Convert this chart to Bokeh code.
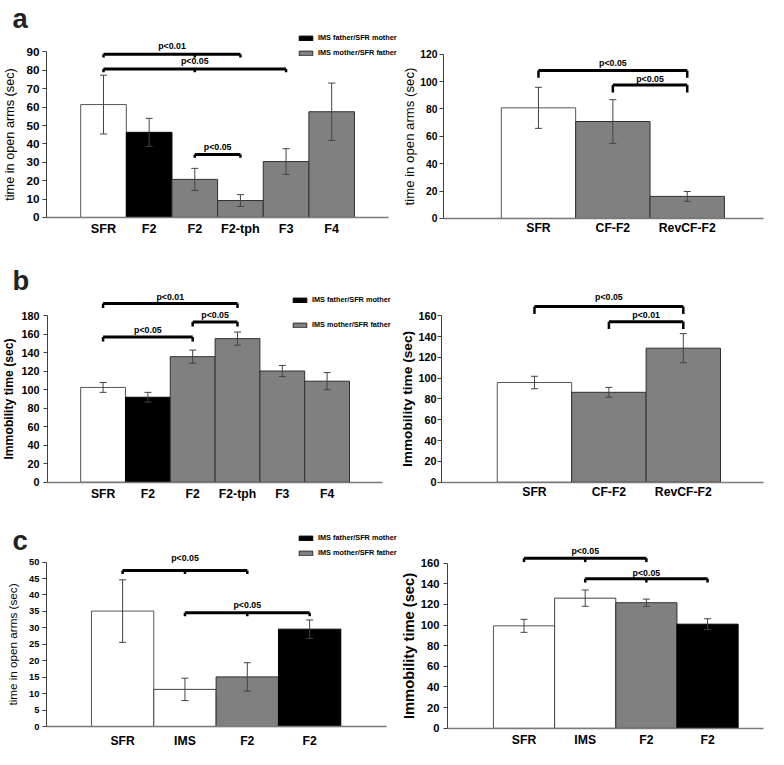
from bokeh.plotting import figure
from bokeh.models import (ColumnDataSource, FixedTicker, Whisker, TeeHead, Label,
                          Legend, LegendItem, Range1d)
from bokeh.layouts import row, column
from bokeh.embed import file_html
from bokeh.resources import INLINE
from bokeh.core.properties import value

# ---------------- data ----------------
# panel a, left: time in open arms
a1_labels = ["SFR", "F2", "F2", "F2-tph", "F3", "F4"]
a1_groups = ["SFR", "pat", "mat", "mat", "mat", "mat"]
a1_mean = [61.4, 46.3, 20.7, 9.2, 30.4, 57.5]
a1_err = [16.0, 7.6, 6.0, 3.2, 7.0, 15.6]
a1_ticks = [0, 10, 20, 30, 40, 50, 60, 70, 80, 90]
# (from bar, to bar, bracket level, text level, text, middle ticks)
a1_brackets = [(0, 3, 88.8, 93.2, "p<0.01", [2]),
               (0, 4, 80.8, 84.9, "p<0.05", [2]),
               (2, 3, 34.3, 38.4, "p<0.05", [])]

# panel a, right
a2_labels = ["SFR", "CF-F2", "RevCF-F2"]
a2_groups = ["SFR", "mat", "mat"]
a2_mean = [80.8, 70.8, 16.1]
a2_err = [15.0, 16.0, 3.6]
a2_ticks = [0, 20, 40, 60, 80, 100, 120]
a2_brackets = [(0, 2, 108.1, 113.6, "p<0.05", []),
               (1, 2, 97.4, 102.2, "p<0.05", [])]

# panel b, left: immobility time
b1_labels = ["SFR", "F2", "F2", "F2-tph", "F3", "F4"]
b1_groups = ["SFR", "pat", "mat", "mat", "mat", "mat"]
b1_mean = [102.5, 91.9, 135.8, 155.3, 120.3, 109.3]
b1_err = [5.3, 5.3, 7.1, 7.1, 6.0, 9.3]
b1_ticks = [0, 20, 40, 60, 80, 100, 120, 140, 160, 180]
b1_brackets = [(0, 3, 193.3, 200.6, "p<0.01", []),
               (2, 3, 173.3, 181.0, "p<0.05", []),
               (0, 2, 157.0, 165.0, "p<0.05", [])]

# panel b, right
b2_labels = ["SFR", "CF-F2", "RevCF-F2"]
b2_groups = ["SFR", "mat", "mat"]
b2_mean = [95.8, 86.4, 128.8]
b2_err = [6.0, 4.7, 14.0]
b2_ticks = [0, 20, 40, 60, 80, 100, 120, 140, 160]
b2_brackets = [(0, 2, 168.8, 178.2, "p<0.05", []),
               (1, 2, 154.3, 160.9, "p<0.01", [])]

# panel c, left: time in open arms
c1_labels = ["SFR", "IMS", "F2", "F2"]
c1_groups = ["SFR", "IMS", "mat", "pat"]
c1_mean = [35.1, 11.3, 15.1, 29.6]
c1_err = [9.5, 3.4, 4.3, 2.8]
c1_ticks = [0, 5, 10, 15, 20, 25, 30, 35, 40, 45, 50]
c1_brackets = [(0, 2, 47.4, 51.2, "p<0.05", [1]),
               (1, 3, 34.6, 36.9, "p<0.05", [2])]

# panel c, right: immobility time
c2_labels = ["SFR", "IMS", "F2", "F2"]
c2_groups = ["SFR", "IMS", "mat", "pat"]
c2_mean = [99.2, 126.0, 121.6, 100.8]
c2_err = [6.3, 7.9, 3.5, 5.3]
c2_ticks = [0, 20, 40, 60, 80, 100, 120, 140, 160]
c2_brackets = [(0, 2, 164.7, 171.6, "p<0.05", [1]),
               (1, 3, 144.9, 150.6, "p<0.05", [2])]

legend_text = {"pat": "IMS father/SFR mother", "mat": "IMS mother/SFR father"}

# ---------------- styles / layout ----------------
S = 0.978
FONT = "Liberation Sans"
FILL = {"SFR": "white", "IMS": "white", "pat": "black", "mat": "#808080"}
EDGE = {"SFR": "#555555", "IMS": "#404040", "pat": "black", "mat": "#303030"}


def P(v):
    return int(round(v * S))


def fs(v):
    return f"{v * S:.1f}px"


panels = [
    dict(labels=a1_labels, groups=a1_groups, mean=a1_mean, err=a1_err, ticks=a1_ticks,
         brackets=a1_brackets, ylabel="time in open arms (sec)", ylabel_bold=False,
         box=(0, 0, 408, 250), axis=(47, 397), zero=222.3, ppu=1.884, bars=(82, 362),
         tick_fs=12, lab_fs=13, tick_so=3, lab_so=6, cat_fs=13, cat_so=5, drop=3.5,
         letter=("a", 12, 18), legend=[("pat", 304, 36), ("mat", 304, 51.7)]),
    dict(labels=a2_labels, groups=a2_groups, mean=a2_mean, err=a2_err, ticks=a2_ticks,
         brackets=a2_brackets, ylabel="time in open arms (sec)", ylabel_bold=False,
         box=(408, 0, 784, 250), axis=(453, 780), zero=223.3, ppu=1.4025, bars=(512, 740),
         tick_fs=10.5, lab_fs=13.5, tick_so=2, lab_so=0, cat_fs=12.5, cat_so=3, drop=7.5,
         letter=None, legend=None),
    dict(labels=b1_labels, groups=b1_groups, mean=b1_mean, err=b1_err, ticks=b1_ticks,
         brackets=b1_brackets, ylabel="Immobility time (sec)", ylabel_bold=True,
         box=(0, 250, 402, 513), axis=(48, 391), zero=492.3, ppu=0.9422, bars=(82, 357),
         tick_fs=11, lab_fs=12.5, tick_so=4, lab_so=2, cat_fs=12.5, cat_so=5, drop=4.5,
         letter=("b", 12, 286.7), legend=[("pat", 298, 304), ("mat", 298, 330)]),
    dict(labels=b2_labels, groups=b2_groups, mean=b2_mean, err=b2_err, ticks=b2_ticks,
         brackets=b2_brackets, ylabel="Immobility time (sec)", ylabel_bold=True,
         box=(402, 250, 784, 513), axis=(451, 780), zero=492.3, ppu=1.0606, bars=(508, 736),
         tick_fs=11, lab_fs=14, tick_so=1, lab_so=0, cat_fs=12.5, cat_so=3, drop=7.5,
         letter=None, legend=None),
    dict(labels=c1_labels, groups=c1_groups, mean=c1_mean, err=c1_err, ticks=c1_ticks,
         brackets=c1_brackets, ylabel="time in open arms (sec)", ylabel_bold=False,
         box=(0, 513, 407, 766), axis=(47, 395), zero=742.5, ppu=3.37, bars=(93, 348),
         tick_fs=9.5, lab_fs=12, tick_so=3, lab_so=7, cat_fs=12.5, cat_so=7, drop=3.5,
         letter=("c", 12, 552), legend=[("pat", 304, 547.3), ("mat", 304, 563)]),
    dict(labels=c2_labels, groups=c2_groups, mean=c2_mean, err=c2_err, ticks=c2_ticks,
         brackets=c2_brackets, ylabel="Immobility time (sec)", ylabel_bold=True,
         box=(407, 513, 784, 766), axis=(457, 780), zero=744.3, ppu=1.058, bars=(504, 754),
         tick_fs=11.5, lab_fs=15, tick_so=4, lab_so=1, cat_fs=12.5, cat_so=5, drop=4,
         letter=None, legend=None),
]


def make_panel(sp):
    x0, y0, x1, y1 = sp["box"]
    W, H = P(x1) - P(x0), P(y1) - P(y0)
    n = len(sp["labels"])
    b0, b1 = sp["bars"]
    bar_ref = (b1 - b0) / n
    zero, ppu = sp["zero"], sp["ppu"]

    def xd(r):  # reference pixel -> data x
        return (r - b0) / bar_ref - 0.5

    def yd(r):  # reference pixel -> data y
        return (zero - r) / ppu

    p = figure(width=W, height=H, x_range=Range1d(xd(x0), xd(x1)),
               y_range=Range1d(yd(y1), yd(y0)), output_backend="svg",
               toolbar_location=None, min_border=0)
    p.outline_line_color = None
    p.xgrid.visible = False
    p.ygrid.visible = False
    p.background_fill_color = "white"
    p.border_fill_color = "white"

    # bars per group
    rends = {}
    for g in dict.fromkeys(sp["groups"]):
        idx = [i for i, gg in enumerate(sp["groups"]) if gg == g]
        src = ColumnDataSource(dict(x=idx, top=[sp["mean"][i] for i in idx]))
        rends[g] = p.vbar(x="x", top="top", width=1.0, bottom=0, source=src,
                          fill_color=FILL[g], line_color=EDGE[g], line_width=1)

    # error bars
    esrc = ColumnDataSource(dict(
        x=list(range(n)),
        upper=[m + e for m, e in zip(sp["mean"], sp["err"])],
        lower=[m - e for m, e in zip(sp["mean"], sp["err"])]))
    wk = Whisker(source=esrc, base="x", upper="upper", lower="lower",
                 line_color="#444444", line_width=1, level="annotation",
                 upper_head=TeeHead(size=7, line_color="#444444", line_width=1),
                 lower_head=TeeHead(size=7, line_color="#444444", line_width=1))
    p.add_layout(wk)

    # significance brackets
    drop = sp["drop"] / ppu
    hx0, hx1, hy = [], [], []
    tx, ty, tt = [], [], []
    vx, vy0, vy1 = [], [], []
    for (i0, i1, lvl, tl, txt, mids) in sp["brackets"]:
        hx0.append(i0); hx1.append(i1); hy.append(lvl)
        tx.append((i0 + i1) / 2); ty.append(tl); tt.append(txt)
        for m in [i0, i1] + list(mids):
            vx.append(m); vy0.append(lvl); vy1.append(lvl - drop)
    p.segment(x0=hx0, y0=hy, x1=hx1, y1=hy, line_color="black", line_width=3)
    p.segment(x0=vx, y0=vy0, x1=vx, y1=vy1, line_color="black", line_width=2.5)
    p.text(x=tx, y=ty, text=tt, text_font=value(FONT), text_font_style="bold",
           text_font_size=fs(9), text_align="center", text_baseline="middle",
           text_color="black")

    # axes (drawn at fixed positions inside the full-size frame)
    ax0, ax1 = sp["axis"]
    xa = p.xaxis[0]
    xa.fixed_location = 0
    xa.bounds = (xd(ax0), xd(ax1))
    xa.ticker = FixedTicker(ticks=list(range(n)))
    xa.major_label_overrides = {i: lab for i, lab in enumerate(sp["labels"])}
    xa.major_tick_out = 0
    xa.major_tick_in = 0
    xa.minor_tick_out = 0
    xa.minor_tick_in = 0
    xa.axis_line_color = "#7a7a7a"
    xa.axis_line_width = 1.5
    xa.major_label_text_font = FONT
    xa.major_label_text_font_style = "bold"
    xa.major_label_text_font_size = fs(sp["cat_fs"])
    xa.major_label_text_color = "black"
    xa.major_label_standoff = sp["cat_so"]

    ya = p.yaxis[0]
    ya.fixed_location = xd(ax0)
    ya.ticker = FixedTicker(ticks=sp["ticks"])
    ya.bounds = (0, max(sp["ticks"]))
    ya.major_tick_out = 4
    ya.major_tick_in = 0
    ya.minor_tick_out = 0
    ya.minor_tick_in = 0
    ya.axis_line_color = "#404040"
    ya.major_tick_line_color = "#404040"
    ya.major_label_text_font = FONT
    ya.major_label_text_font_style = "bold"
    ya.major_label_text_font_size = fs(sp["tick_fs"])
    ya.major_label_text_color = "black"
    ya.major_label_standoff = sp["tick_so"]
    ya.axis_label = sp["ylabel"]
    ya.axis_label_text_font = FONT
    ya.axis_label_text_font_style = "bold" if sp["ylabel_bold"] else "normal"
    ya.axis_label_text_font_size = fs(sp["lab_fs"])
    ya.axis_label_text_color = "black"
    ya.axis_label_standoff = sp["lab_so"]

    # panel letter
    if sp["letter"]:
        txt, lx, ly = sp["letter"]
        p.add_layout(Label(x=P(lx) - P(x0), y=P(y1) - P(ly), x_units="screen",
                           y_units="screen", text=txt, text_font=FONT,
                           text_font_style="bold", text_font_size=fs(28),
                           text_align="left", text_baseline="alphabetic",
                           text_color="#222222"))

    # legend (one per item for exact placement)
    if sp["legend"]:
        for g, bx, by in sp["legend"]:
            leg = Legend(items=[LegendItem(label=legend_text[g], renderers=[rends[g]])],
                         location=(P(bx) - P(x0), P(y1) - P(by + 6.5)),
                         glyph_width=17, glyph_height=6, label_height=6,
                         label_standoff=4, padding=0, spacing=0, margin=0,
                         border_line_color=None, background_fill_alpha=0,
                         label_text_font=FONT, label_text_font_style="bold",
                         label_text_font_size=fs(7.5), label_text_color="black")
            p.add_layout(leg)
    return p


figs = [make_panel(sp) for sp in panels]
layout = column(row(figs[0], figs[1], spacing=0),
                row(figs[2], figs[3], spacing=0),
                row(figs[4], figs[5], spacing=0), spacing=0)

open("out.html", "w").write(file_html(layout, INLINE))
